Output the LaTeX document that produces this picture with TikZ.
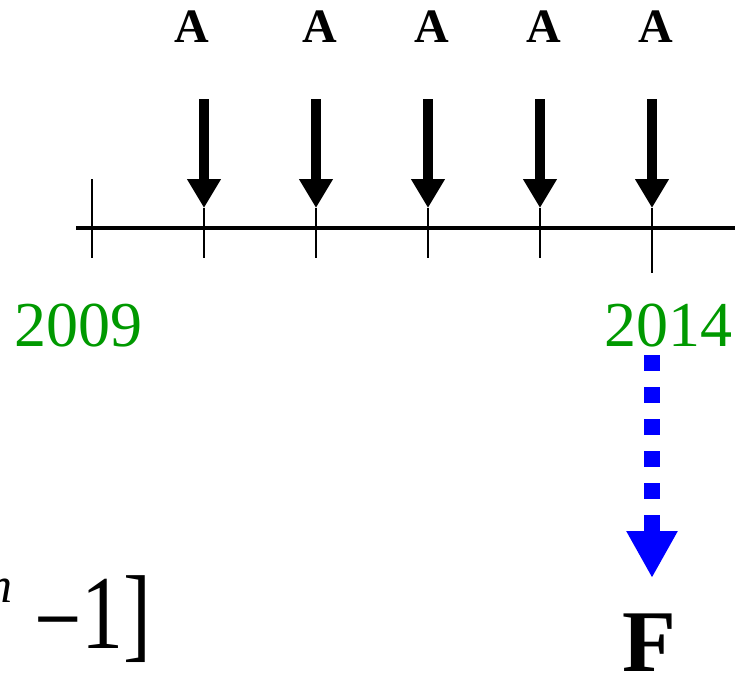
\documentclass[tikz,border=0pt]{standalone}
\usepackage{fontspec}
\setmainfont{Liberation Serif}
\usetikzlibrary{arrows.meta}

\tikzset{
  axis/.style={line width=4pt},
  tickline/.style={line width=2pt},
  pay/.style={line width=10pt,-{Triangle[width=32pt,length=29pt]}},
  fut/.style={blue,line width=16pt,dash pattern=on 16pt off 16pt,
    -{Triangle[width=48pt,length=47pt]}},
  albl/.style={anchor=base,inner sep=0pt,font=\fontsize{48}{48}\selectfont\bfseries},
  yr/.style={anchor=base,inner sep=0pt,text=green!60!black,font=\fontsize{64}{64}\selectfont},
}

\begin{document}
\begin{tikzpicture}[x=1pt,y=-1pt]
        \useasboundingbox (0,0) rectangle (735,673);

        %%% time line %%%
        \coordinate (start) at (76,228);
        \coordinate (end) at (735,228);
        \draw[axis] (start) -- (end);
        \coordinate (t0up) at (92,179);
        \coordinate (t0dn) at (92,258);
        \draw[tickline] (t0up) -- (t0dn);

        %%% payments A %%%
        \foreach \x/\ax [count=\i] in {204/192, 316/320, 428/432, 540/544, 652/656}{
          \coordinate (top\i) at (\x,99);
          \coordinate (tip\i) at (\x,208);
          \node[albl] (a\i) at (\ax,42) {A};
          \draw[pay] (top\i) -- (tip\i);
        }
        \foreach \i in {1,2,3,4}{
          \draw[tickline] (tip\i) -- ++(0,50) coordinate (foot\i);
        }
        \draw[tickline] (tip5) -- ++(0,65) coordinate (foot5);

        %%% years %%%
        \node[yr] (y0) at (78,346) {2009};
        \node[yr] (y5) at (668,346) {2014};

        %%% future value F %%%
        \coordinate (fstart) at (652,355);
        \coordinate (fend) at (652,578);
        \draw[fut] (fstart) -- (fend);
        \node[anchor=base,inner sep=0pt,font=\fontsize{88}{88}\selectfont\bfseries] (F) at (649,671) {F};

        %%% formula %%%
        \node[anchor=base west,inner sep=0pt,font=\fontsize{50}{50}\selectfont\itshape] (n) at (-13,602) {n};
        \node[anchor=base west,inner sep=0pt] (br) at (34,648)
          {\scalebox{0.8}[1]{\fontsize{105}{105}\selectfont\raisebox{-6pt}{−}1]}};

\end{tikzpicture}
\end{document}
